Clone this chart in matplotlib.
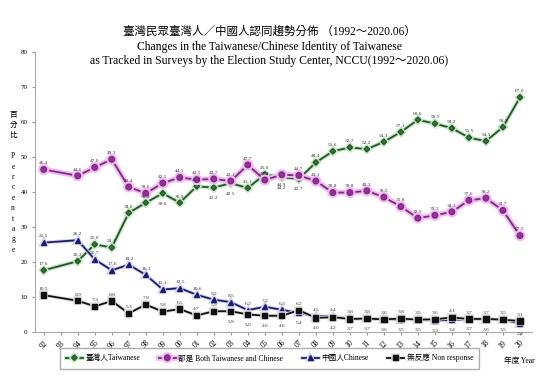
import matplotlib
matplotlib.use("Agg")
import matplotlib.pyplot as plt
import matplotlib.patheffects as pe

plt.rcParams['font.family'] = ['Liberation Serif', 'Noto Sans CJK TC']

# survey years (no 1993 survey)
years = [1992, 1994, 1995, 1996, 1997, 1998, 1999, 2000, 2001, 2002, 2003, 2004, 2005, 2006,
         2007, 2008, 2009, 2010, 2011, 2012, 2013, 2014, 2015, 2016, 2017, 2018, 2019, 2020]
tick_years = list(range(1992, 2021))
tick_labels = ['92', '93', '94', '95', '96', '97', '98', '99', '00', '01', '02', '03', '04', '05',
               '06', '07', '08', '09', '10', '11', '12', '13', '14', '15', '16', '17', '18', '19', '20']

taiwanese = [17.6, 20.2, 25.0, 24.1, 34.0, 36.9, 39.6, 36.9, 41.6, 41.2, 42.5, 41.1, 45.0, 44.2,
             43.7, 48.4, 51.6, 52.7, 52.2, 54.3, 57.1, 60.6, 59.5, 58.2, 55.5, 54.5, 58.5, 67.0]
both = [46.4, 44.6, 47.0, 49.3, 41.4, 39.6, 42.5, 44.1, 43.5, 43.7, 43.1, 47.7, 43.4, 44.9,
        44.7, 43.1, 39.8, 39.8, 40.3, 38.5, 35.8, 32.5, 33.3, 34.3, 37.6, 38.2, 34.7, 27.5]
chinese = [25.5, 26.2, 20.7, 17.6, 19.2, 16.3, 12.1, 12.5, 10.6, 9.2, 8.5, 6.2, 7.2, 6.3,
           5.4, 4.5, 4.4, 3.8, 3.7, 3.6, 3.5, 3.5, 3.3, 3.4, 3.7, 3.6, 3.5, 2.4]
nonresp = [10.5, 8.9, 7.3, 8.8, 5.3, 7.8, 5.8, 6.5, 4.7, 5.9, 5.9, 5.0, 4.6, 4.6,
           6.2, 4.0, 4.2, 3.7, 3.8, 3.6, 3.8, 3.5, 3.6, 4.1, 3.7, 3.7, 3.5, 3.1]

# label placement per point: a = above, b = below
tw_pos = "aaaaaabaabbaabbaaaaaaaaaaaaa"
bo_pos = "aaaaaaaaaaaaabaaaaaaaaaaaaaa"
ch_pos = "aaaaaaaaaaaaaabaaabbbbbbbbbb"
nr_pos = "aaaaaaaaaabbbbabbbaaaaaaaaaa"

fig = plt.figure(figsize=(5.5, 3.9), dpi=100)
ax = fig.add_axes([0.064, 0.149, 0.903, 0.718])

series = [
    (taiwanese, '臺灣人Taiwanese', '#1f5a22', 'D', 2.8, '#2e7d32', '#c4e6c4', 3.0, tw_pos),
    (both, '都是 Both Taiwanese and Chinese', '#7a2c7e', 'o', 4.0, '#9c2aa0', '#f4b8f4', 4.0, bo_pos),
    (chinese, '中國人Chinese', '#1c1c78', '^', 3.6, '#1c1c78', '#d0d4f0', 2.6, ch_pos),
    (nonresp, '無反應 Non response', '#111111', 's', 3.8, '#111111', '#dddddd', 2.6, nr_pos),
]

for vals, name, col, mk, ms, mfc, glow, gw, pos in series:
    ax.plot(years, vals, color=col, lw=1.3, marker=mk, ms=ms, mfc=mfc, mec=col, label=name,
            path_effects=[pe.Stroke(linewidth=gw, foreground=glow), pe.Normal()])
    for x, v, p in zip(years, vals, pos):
        dy = 3 if p == 'a' else -9
        ax.annotate(f"{v:.1f}", (x, v), xytext=(0, dy), textcoords='offset points',
                    ha='center', va='bottom', fontsize=3.9, color='#333333')

ax.set_xlim(1991.5, 2020.7)
ax.set_ylim(0, 80)
ax.set_yticks(range(0, 81, 10))
ax.set_xticks(tick_years)
ax.set_xticklabels(tick_labels, rotation=45, fontsize=5.5)
ax.tick_params(axis='y', labelsize=5, length=2, color='#999999')
ax.tick_params(axis='x', length=2, color='#999999', pad=3)
for s in ['top', 'right']:
    ax.spines[s].set_visible(False)
for s in ['left', 'bottom']:
    ax.spines[s].set_color('#aaaaaa')
    ax.spines[s].set_linewidth(0.8)

fig.text(0.49, 0.918, '臺灣民眾臺灣人／中國人認同趨勢分佈 （1992～2020.06）', ha='center', va='center', fontsize=8.3)
fig.text(0.49, 0.880, 'Changes in the Taiwanese/Chinese Identity of Taiwanese', ha='center', va='center', fontsize=8.4)
fig.text(0.49, 0.843, 'as Tracked in Surveys by the Election Study Center, NCCU(1992～2020.06)',
         ha='center', va='center', fontsize=8.4)

fig.text(0.024, 0.533, '百\n分\n比\n\nP\ne\nr\nc\ne\nn\nt\na\ng\ne', ha='center', va='center',
         fontsize=5.5, linespacing=1.4)

fig.legend(loc='center', bbox_to_anchor=(0.49, 0.082), ncol=4, fontsize=5.5, frameon=True,
           fancybox=False, edgecolor='#999999', handlelength=2.2, columnspacing=2.5,
           borderpad=0.8, handletextpad=0.3)
fig.text(0.945, 0.074, '年度 Year', ha='center', va='center', fontsize=5.5)

fig.savefig('out.png', dpi=100)
